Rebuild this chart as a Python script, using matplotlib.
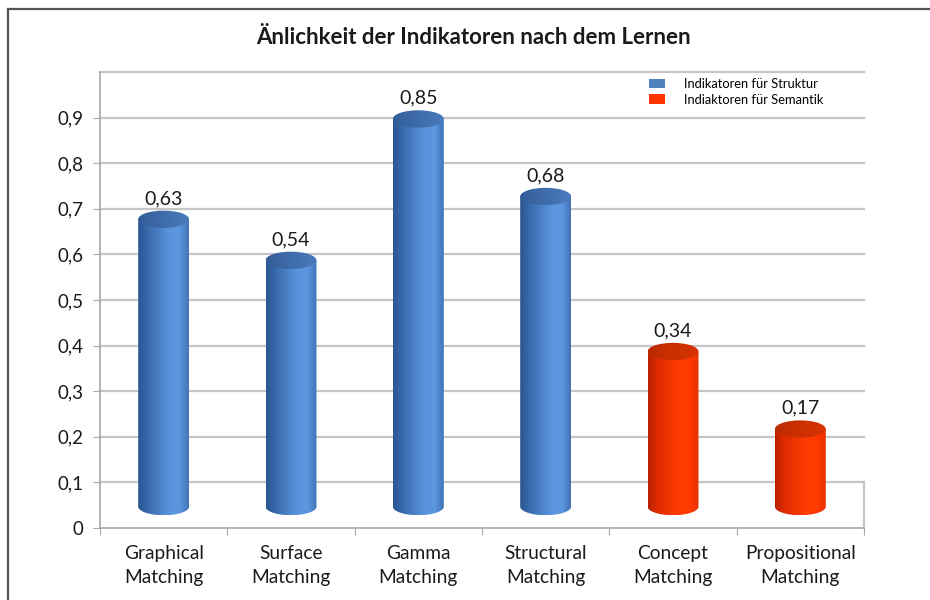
import matplotlib.pyplot as plt
import numpy as np
from matplotlib.colors import LinearSegmentedColormap
from matplotlib.lines import Line2D
from matplotlib.patches import Ellipse, Patch, Polygon

plt.rcParams["font.family"] = ["Lato", "DejaVu Sans"]

# data
categories = [
    "Graphical\nMatching",
    "Surface\nMatching",
    "Gamma\nMatching",
    "Structural\nMatching",
    "Concept\nMatching",
    "Propositional\nMatching",
]
values = [0.63, 0.54, 0.85, 0.68, 0.34, 0.17]
groups = ["struktur", "struktur", "struktur", "struktur", "semantik", "semantik"]
ytick_values = [0.0, 0.1, 0.2, 0.3, 0.4, 0.5, 0.6, 0.7, 0.8, 0.9]
ytick_labels = ["0", "0,1", "0,2", "0,3", "0,4", "0,5", "0,6", "0,7", "0,8", "0,9"]
grid_levels = [0.1, 0.2, 0.3, 0.4, 0.5, 0.6, 0.7, 0.8, 0.9, 1.0]
legend_labels = {"struktur": "Indikatoren für Struktur", "semantik": "Indiaktoren für Semantik"}
title = "Änlichkeit der Indikatoren nach dem Lernen"

# styling
BAR_WIDTH = 0.4
FLOOR = 0.047   # 3D floor offset of the cylinder base
RY = 0.019      # half height of the cylinder ellipses
TEXT = "#1a1a1a"
LINE = "#a8a8a8"
GRID = "#c6c6c6"

styles = {
    "struktur": {
        "body": LinearSegmentedColormap.from_list(
            "b_body",
            [(0.0, "#2a5590"), (0.2, "#3a6cae"), (0.6, "#5893dc"), (0.82, "#5c97e0"), (1.0, "#4272b5")],
        ),
        "top": LinearSegmentedColormap.from_list("b_top", ["#335d97", "#3f6dab", "#4a7bbd"]),
        "legend": "#4f81bd",
    },
    "semantik": {
        "body": LinearSegmentedColormap.from_list(
            "r_body",
            [(0.0, "#b82000"), (0.2, "#e02c00"), (0.6, "#ff3c00"), (0.82, "#ff3a00"), (1.0, "#e83000")],
        ),
        "top": LinearSegmentedColormap.from_list("r_top", ["#bb2a00", "#cc3000", "#d83400"]),
        "legend": "#ff3300",
    },
}


def draw_cylinder(ax, xc, height, style):
    half = BAR_WIDTH / 2
    top = FLOOR + height
    t = np.linspace(np.pi, 2 * np.pi, 60)
    verts = [(xc - half, top)]
    verts += list(zip(xc + half * np.cos(t), FLOOR + RY * np.sin(t)))
    verts += [(xc + half, top)]
    body = Polygon(verts, closed=True, transform=ax.transData)
    grad = np.linspace(0, 1, 256).reshape(1, -1)
    image = ax.imshow(
        grad,
        cmap=style["body"],
        extent=[xc - half, xc + half, FLOOR - RY, top],
        aspect="auto",
        origin="lower",
        zorder=3,
    )
    image.set_clip_path(body)

    cap = Ellipse((xc, top), BAR_WIDTH, 2 * RY, transform=ax.transData)
    image = ax.imshow(
        grad,
        cmap=style["top"],
        extent=[xc - half, xc + half, top - RY, top + RY],
        aspect="auto",
        origin="lower",
        zorder=4,
    )
    image.set_clip_path(cap)
    return top + RY


fig = plt.figure(figsize=(9.3, 6), dpi=100)
ax = fig.add_axes([100 / 930, 72 / 600, 764 / 930, 456 / 600])

n = len(categories)
centers = np.arange(n) + 0.5

for level in grid_levels:
    ax.plot([0, n], [level, level], color=GRID, lw=1.6, zorder=1, clip_on=False)
ax.plot([n, n], [0, grid_levels[0]], color=GRID, lw=1.6, zorder=1, clip_on=False)

for xc, val, grp in zip(centers, values, groups):
    cap_top = draw_cylinder(ax, xc, val, styles[grp])
    ax.text(
        xc, cap_top + 0.008, f"{val:.2f}".replace(".", ","),
        ha="center", va="bottom", fontsize=14, color=TEXT, zorder=5,
    )

ax.set_xlim(0, n)
ax.set_ylim(0, 1.0)
ax.spines[["top", "right"]].set_visible(False)
for side in ["left", "bottom"]:
    ax.spines[side].set_color(LINE)
    ax.spines[side].set_linewidth(1.2)

ax.set_yticks(ytick_values, ytick_labels)
ax.tick_params(axis="y", length=5, color=LINE, labelsize=13.5, labelcolor=TEXT, pad=7)
ax.set_xticks(np.arange(n + 1))
ax.set_xticklabels([])
ax.tick_params(axis="x", which="major", length=5, color=LINE)
ax.set_xticks(centers, minor=True)
ax.set_xticklabels(categories, minor=True, fontsize=13.8, color=TEXT, linespacing=1.55)
ax.tick_params(axis="x", which="minor", length=0, pad=12)

handles = [Patch(facecolor=styles[g]["legend"], edgecolor="none", label=legend_labels[g])
           for g in ["struktur", "semantik"]]
fig.legend(
    handles=handles,
    loc="upper left",
    bbox_to_anchor=(649 / 930, 1 - 78 / 600),
    frameon=False,
    fontsize=9.3,
    handlelength=1.25,
    handleheight=0.8,
    handletextpad=1.45,
    labelspacing=0.3,
    borderpad=0,
    borderaxespad=0,
)

fig.text(473 / 930, 1 - 37 / 600, title, ha="center", va="center",
         fontsize=16, fontweight="bold", color=TEXT)

# outer frame (top and left edges only)
fig.add_artist(Line2D([8 / 930, 1], [1 - 9 / 600, 1 - 9 / 600], color="#555555", lw=1.6,
                      transform=fig.transFigure))
fig.add_artist(Line2D([8 / 930, 8 / 930], [0, 1 - 9 / 600], color="#555555", lw=1.6,
                      transform=fig.transFigure))

fig.savefig("out.png", dpi=100)
